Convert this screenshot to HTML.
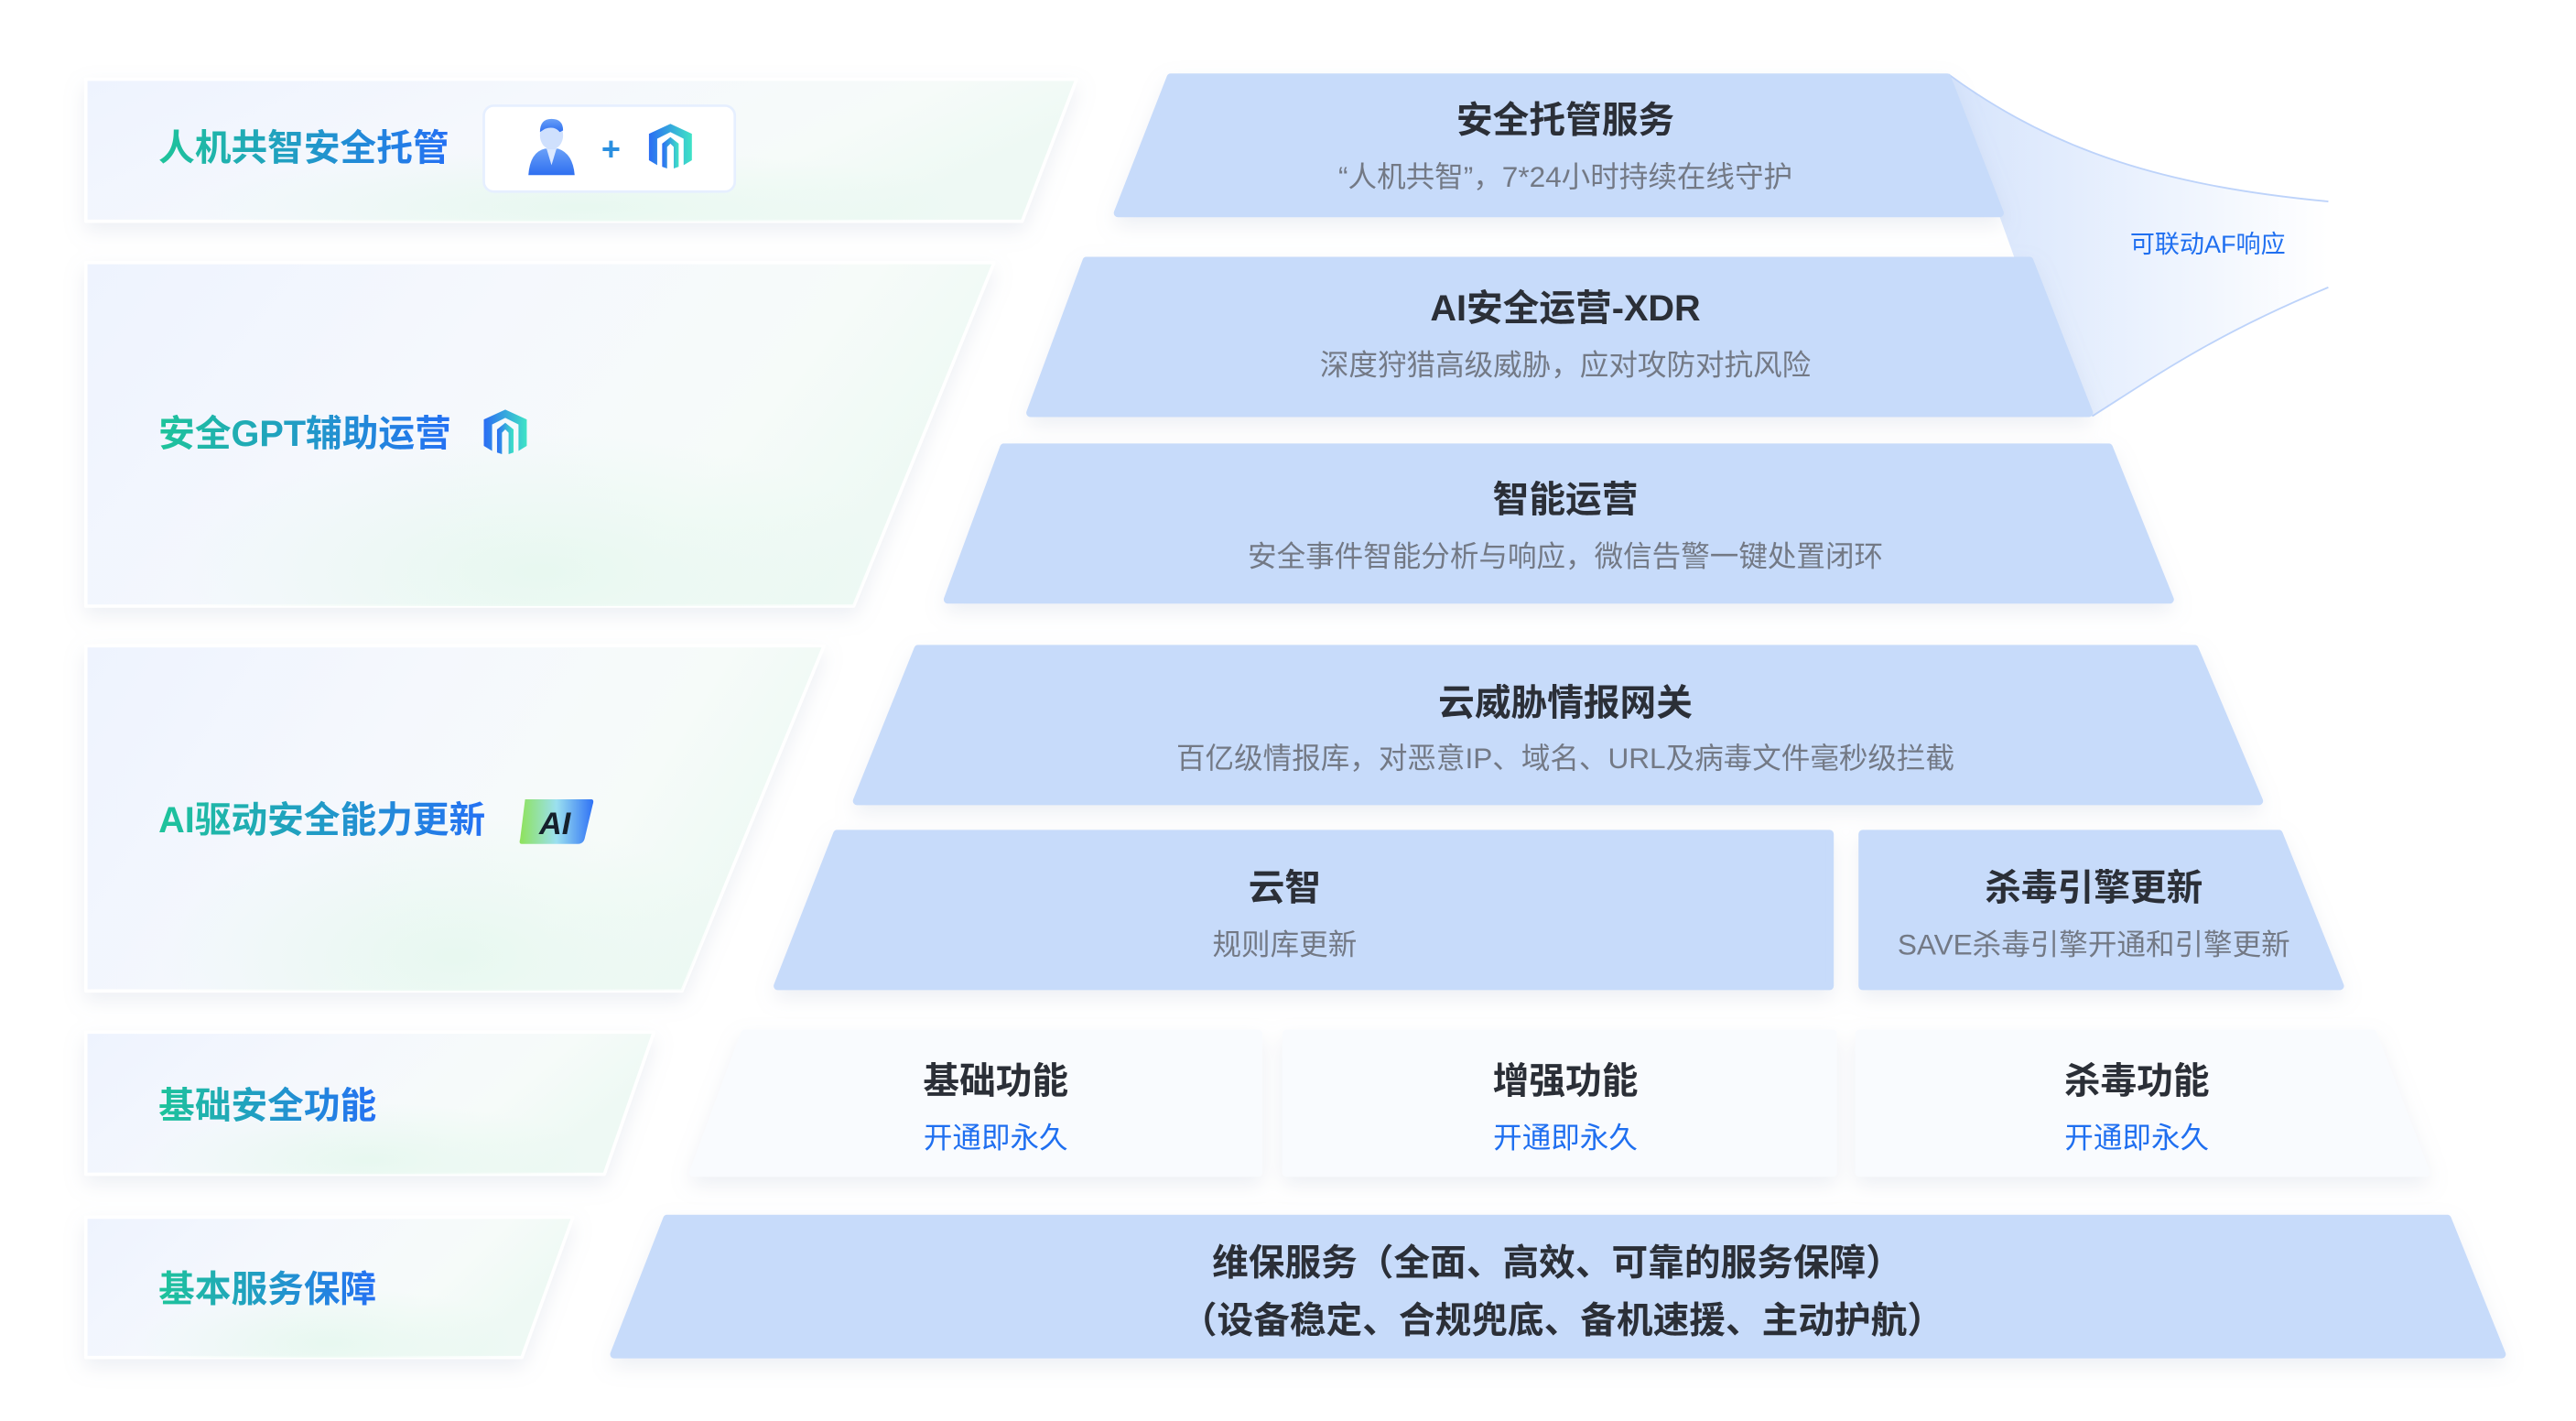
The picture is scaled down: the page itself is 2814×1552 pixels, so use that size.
<!DOCTYPE html>
<html><head><meta charset="utf-8"><style>
html,body{margin:0;padding:0;background:#fff;}
svg{display:block;}
text{font-family:"Liberation Sans","Noto Sans CJK SC",sans-serif;}
</style></head><body>
<svg width="2814" height="1552" viewBox="0 0 1560 860.4" preserveAspectRatio="none" xmlns="http://www.w3.org/2000/svg">
<defs>
<filter id="sh" x="-10%" y="-20%" width="120%" height="150%">
<feDropShadow dx="0" dy="5" stdDeviation="6" flood-color="#9aa9c4" flood-opacity="0.18"/>
</filter>
<linearGradient id="lp" x1="0" y1="0" x2="1" y2="0.3">
<stop offset="0" stop-color="#eef3fe"/><stop offset="0.45" stop-color="#f5f8fd"/><stop offset="0.8" stop-color="#f6fbf9"/><stop offset="1" stop-color="#eef9f4"/>
</linearGradient>
<radialGradient id="gr" cx="0.5" cy="0.9" r="0.4">
<stop offset="0" stop-color="#e6f8ef" stop-opacity="0.9"/><stop offset="1" stop-color="#e6f8ef" stop-opacity="0"/>
</radialGradient>
<linearGradient id="fan" x1="0" y1="0" x2="1" y2="0">
<stop offset="0" stop-color="#d6e4fc"/><stop offset="0.6" stop-color="#eef4fe"/><stop offset="1" stop-color="#ffffff"/>
</linearGradient>
<linearGradient id="tx" x1="0" y1="0" x2="1" y2="0">
<stop offset="0" stop-color="#1ec49a"/><stop offset="1" stop-color="#2470f4"/>
</linearGradient>
<linearGradient id="lg" x1="0" y1="0" x2="1" y2="0">
<stop offset="0" stop-color="#2b6df4"/><stop offset="1" stop-color="#3fe3c6"/>
</linearGradient>
<linearGradient id="ai" x1="0" y1="0" x2="1" y2="0">
<stop offset="0" stop-color="#8ee25a"/><stop offset="0.5" stop-color="#9be0f0"/><stop offset="1" stop-color="#2f72f5"/>
</linearGradient>
<linearGradient id="pp" x1="0" y1="0" x2="0" y2="1">
<stop offset="0" stop-color="#6aa0f8"/><stop offset="1" stop-color="#2e6ff0"/>
</linearGradient>
</defs>

<g filter="url(#sh)" stroke="#ffffff" stroke-width="2" stroke-linejoin="round">
<path d="M52,48 L652,48 L619,134 L52,134 Z" fill="url(#lp)"/>
<path d="M52,159 L602,159 L517,367 L52,367 Z" fill="url(#lp)"/>
<path d="M52,391 L499,391 L413,600 L52,600 Z" fill="url(#lp)"/>
<path d="M52,625 L396,625 L366,711 L52,711 Z" fill="url(#lp)"/>
<path d="M52,737 L347,737 L316,822 L52,822 Z" fill="url(#lp)"/>
</g>
<g fill="url(#gr)">
<path d="M52,48 L652,48 L619,134 L52,134 Z"/>
<path d="M52,159 L602,159 L517,367 L52,367 Z"/>
<path d="M52,391 L499,391 L413,600 L52,600 Z"/>
<path d="M52,625 L396,625 L366,711 L52,711 Z"/>
<path d="M52,737 L347,737 L316,822 L52,822 Z"/>
</g>

<g font-size="22" font-weight="600" fill="url(#tx)">
<text x="96" y="97">人机共智安全托管</text>
<text x="96" y="270">安全GPT辅助运营</text>
<text x="96" y="504">AI驱动安全能力更新</text>
<text x="96" y="677">基础安全功能</text>
<text x="96" y="788">基本服务保障</text>
</g>

<rect x="293" y="64" width="152" height="52" rx="6" fill="#fff" stroke="#e6efff" stroke-width="1.5"/>
<g>
<ellipse cx="334" cy="82" rx="7" ry="8.5" fill="#cfe0fd"/>
<path d="M327,80 Q327,72 334,72 Q341,72 341,79 L339,80 Q336,76 330,78 Z" fill="url(#pp)"/>
<path d="M320,106 Q321,92 330,90 L338,90 Q347,93 348,106 Z" fill="url(#pp)"/>
<path d="M331,90 L334,100 L337,90 Z" fill="#dce9ff"/>
</g>
<text x="370" y="97" font-size="20" font-weight="700" fill="#2a8fe0" text-anchor="middle">+</text>
<g id="logo" transform="translate(393,75)">
<path d="M0,6 L13,0 L26,6 L26,22 L21,25 L21,9 L13,5 L5,9 L5,25 L0,22 Z" fill="url(#lg)"/>
<path d="M8,12 L13,8 L18,12 L18,26 L15,27 L15,14 L13,12 L11,14 L11,27 L8,26 Z" fill="url(#lg)"/>
</g>
<use href="#logo" x="-100" y="173"/>
<path d="M318,484 L358,484 Q360,484 359,487 L354,508 Q353,511 350,511 L316,511 Q314,511 315,508 L318,484 Z" fill="url(#ai)"/>
<text x="336" y="505" font-size="19" font-weight="700" font-style="italic" fill="#15202b" text-anchor="middle">AI</text>

<g transform="translate(-5,-2)">
<path d="M1185,47 C1250,95 1320,115 1415,124 L1415,176 C1345,205 1310,230 1272,254 L1240,200 Z" fill="url(#fan)"/>
<path d="M1185,47 C1250,95 1320,115 1415,124" fill="none" stroke="#bdd3fa" stroke-width="1"/>
<path d="M1272,254 C1310,230 1345,205 1415,176" fill="none" stroke="#bdd3fa" stroke-width="1"/>
<text x="1342" y="155" font-size="15" fill="#1f6ff0" text-anchor="middle">可联动AF响应</text>

<g filter="url(#sh)" fill="#c7dbfa" stroke="#c7dbfa" stroke-width="5" stroke-linejoin="round">
<path d="M714,49 L1184,49 L1216,131 L682,131 Z"/>
<path d="M663,160 L1234,160 L1270,252 L629,252 Z"/>
<path d="M613,273 L1282,273 L1319,365 L579,365 Z"/>
<path d="M561,395 L1334,395 L1373,487 L524,487 Z"/>
<path d="M512,507 L1113,507 L1113,599 L476,599 Z"/>
<path d="M1133,507 L1385,507 L1422,599 L1133,599 Z"/>
<path d="M409,740 L1487,740 L1520,822 L377,822 Z"/>
</g>
<g filter="url(#sh)" fill="#f9fbfe" stroke="#f9fbfe" stroke-width="5" stroke-linejoin="round">
<path d="M456,628 L767,628 L767,712 L425,712 Z"/>
<path d="M784,628 L1115,628 L1115,712 L784,712 Z"/>
<path d="M1131,628 L1442,628 L1474,712 L1131,712 Z"/>
</g>

<g font-size="22" font-weight="700" fill="#2b2f37" text-anchor="middle">
<text x="953" y="82">安全托管服务</text>
<text x="953" y="196">AI安全运营-XDR</text>
<text x="953" y="312">智能运营</text>
<text x="953" y="435">云威胁情报网关</text>
<text x="783" y="547">云智</text>
<text x="1273" y="547">杀毒引擎更新</text>
<text x="608" y="664">基础功能</text>
<text x="953" y="664">增强功能</text>
<text x="1299" y="664">杀毒功能</text>
<text x="948" y="774">维保服务（全面、高效、可靠的服务保障）</text>
<text x="951" y="809">（设备稳定、合规兜底、备机速援、主动护航）</text>
</g>
<g font-size="17.5" fill="#737985" text-anchor="middle">
<text x="953" y="115">“人机共智”，7*24小时持续在线守护</text>
<text x="953" y="229">深度狩猎高级威胁，应对攻防对抗风险</text>
<text x="953" y="345">安全事件智能分析与响应，微信告警一键处置闭环</text>
<text x="953" y="467">百亿级情报库，对恶意IP、域名、URL及病毒文件毫秒级拦截</text>
<text x="783" y="580">规则库更新</text>
<text x="1273" y="580">SAVE杀毒引擎开通和引擎更新</text>
</g>
<g font-size="17.5" fill="#1f6ff0" text-anchor="middle">
<text x="608" y="697">开通即永久</text>
<text x="953" y="697">开通即永久</text>
<text x="1299" y="697">开通即永久</text>
</g>
</g>
</svg>
</body></html>
